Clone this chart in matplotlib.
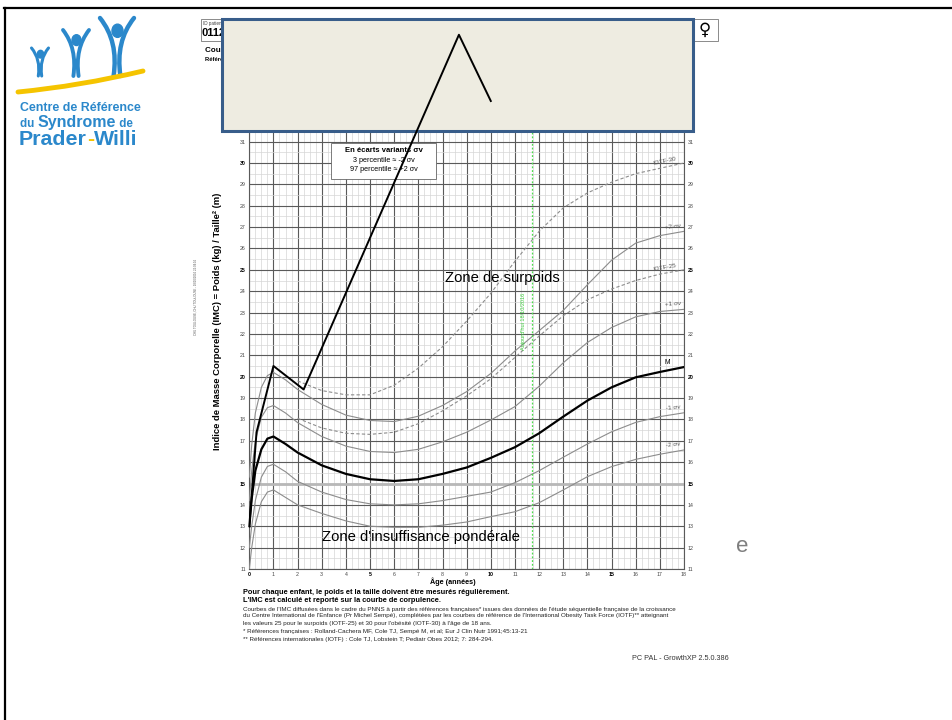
import numpy as np
import matplotlib
matplotlib.use("Agg")
import matplotlib.pyplot as plt
from matplotlib.patches import Rectangle, PathPatch, Ellipse
from matplotlib.path import Path

plt.rcParams['font.family'] = ['Liberation Sans', 'DejaVu Sans']

# French reference curves (girls), ages in years
ages = [0, 0.1, 0.25, 0.5, 0.75, 1, 1.5, 2, 3, 4, 5, 6, 7, 8, 9, 10, 11, 12, 13, 14, 15, 16, 17, 18]
bmi_p2 = [15.3, 16.8, 18.3, 19.5, 20.05, 20.2, 19.85, 19.4, 18.7, 18.2, 17.95, 17.9, 18.15, 18.65, 19.3,
          20.15, 21.2, 22.15, 23.1, 24.3, 25.45, 26.25, 26.6, 26.8]
bmi_p1 = [14.2, 15.6, 17.0, 18.1, 18.55, 18.65, 18.3, 17.85, 17.2, 16.75, 16.5, 16.45, 16.6, 16.95, 17.4,
          17.97, 18.6, 19.55, 20.65, 21.6, 22.3, 22.8, 23.05, 23.15]
bmi_m = [13.0, 14.3, 15.6, 16.6, 17.1, 17.2, 16.85, 16.45, 15.85, 15.45, 15.2, 15.12, 15.2, 15.45, 15.75,
         16.2, 16.7, 17.35, 18.13, 18.88, 19.5, 19.97, 20.22, 20.45]
bmi_m1 = [12.0, 13.0, 14.2, 15.3, 15.8, 15.9, 15.55, 15.1, 14.6, 14.25, 14.05, 14.0, 14.05, 14.2, 14.4,
          14.6, 15.04, 15.6, 16.23, 16.85, 17.42, 17.86, 18.13, 18.31]
bmi_m2 = [11.0, 12.0, 13.1, 14.15, 14.6, 14.7, 14.35, 14.0, 13.6, 13.25, 13.0, 12.95, 12.95, 13.05, 13.2,
          13.45, 13.68, 14.1, 14.7, 15.32, 15.79, 16.13, 16.37, 16.57]

# IOTF cut-offs
iotf_ages = [2, 3, 4, 5, 6, 7, 8, 9, 10, 11, 12, 13, 14, 15, 16, 17, 18]
iotf_25 = [18.05, 17.6, 17.35, 17.3, 17.4, 17.8, 18.4, 19.1, 19.9, 20.9, 21.9, 22.85, 23.6, 24.1, 24.5, 24.8, 25.0]
iotf_30 = [19.8, 19.35, 19.15, 19.15, 19.6, 20.4, 21.4, 22.6, 23.9, 25.4, 26.8, 27.9, 28.6, 29.1, 29.5, 29.75, 30.0]

# patient measurements
patient_ages = [0, 0.3, 1.0, 2.25, 8.68, 10.0]
patient_bmi = [13.0, 17.4, 20.5, 19.4, 36.0, 32.9]
today_age = 11.72

W, H = 952, 720
fig = plt.figure(figsize=(W / 100, H / 100), dpi=100)
renderer = fig.canvas.get_renderer()

# background layer in pixel coordinates
bg = fig.add_axes([0, 0, 1, 1], zorder=0)
bg.set_xlim(0, W)
bg.set_ylim(H, 0)
bg.axis('off')

# slide frame
bg.plot([4, W], [8, 8], color='black', lw=1.6)
bg.plot([5, 5], [8, H], color='black', lw=1.6)

blue = '#2B88CB'
yellow = '#F5C400'


def stroke(axh, pts, lw, color):
    codes = [Path.MOVETO] + [Path.CURVE3] * (len(pts) - 1)
    axh.add_patch(PathPatch(Path(pts, codes), fill=False, lw=lw, ec=color, capstyle='round'))


def text_run(axh, x, y, pieces):
    # write (text, size, colour) pieces one after another on a line
    for txt, size, col in pieces:
        t = axh.text(x, y, txt, fontsize=size, fontweight='bold', color=col, va='baseline')
        x += t.get_window_extent(renderer).width


# logo figures
for cx, ty, by, w, r, lw in [(40, 48, 76, 17, 3.2, 2.2), (76, 30, 76, 26, 4.5, 2.8), (117, 18, 76, 34, 5.5, 3.2)]:
    h = by - ty
    stroke(bg, [(cx - 0.5 * w, ty), (cx + 0.05 * w, ty + 0.4 * h), (cx - 0.1 * w, by)], lw, blue)
    stroke(bg, [(cx + 0.5 * w, ty), (cx - 0.05 * w, ty + 0.4 * h), (cx + 0.1 * w, by)], lw, blue)
    bg.add_patch(Ellipse((cx + 0.5, ty + 0.22 * h), 2 * r, 2.4 * r, color=blue))
stroke(bg, [(18, 92), (80, 86), (143, 71)], 3.5, yellow)

text_run(bg, 20, 111, [("Centre de Référence", 8.9, blue)])
text_run(bg, 20, 127, [("du ", 8.4, blue), ("Syndrome", 11.5, blue), (" de", 8.4, blue)])
text_run(bg, 19, 145, [("Prader", 15.4, blue), ("-", 15.4, yellow), ("Willi", 15.4, blue)])

# chart header (partly hidden)
bg.add_patch(Rectangle((201, 19), 60, 22, fill=False, ec='#777777', lw=0.6))
bg.text(203, 23, "ID patient", fontsize=3.3, color='#444444', va='center')
bg.text(202, 33.5, "0112", fontsize=8, fontweight='bold', va='center')
bg.text(205, 50, "Courbe de corpulence", fontsize=5.8, fontweight='bold', va='center')
bg.text(205, 59, "Références françaises et IOTF", fontsize=4.2, fontweight='bold', va='center')
bg.add_patch(Rectangle((690, 19), 28, 22, fc='white', ec='#777777', lw=0.6))
bg.text(705, 30, "\u2640", fontsize=12, ha='center', va='center', family='DejaVu Sans')

# side texts
bg.text(196, 297, "CHU TOULOUSE, CHU TOULOUSE - 18/10/2016 22:04:16", fontsize=2.1, rotation=90,
        ha='center', va='center', color='#555555')
bg.text(218, 321, "Indice de Masse Corporelle (IMC) = Poids (kg) / Taille\u00b2 (m)", fontsize=6.8,
        fontweight='bold', rotation=90, ha='center', va='center')

# footer
bg.text(453, 582, "Âge (années)", fontsize=5.2, fontweight='bold', ha='center', va='center')
bg.text(243, 593, "Pour chaque enfant, le poids et la taille doivent être mesurés régulièrement.",
        fontsize=5.3, fontweight='bold', va='center')
bg.text(243, 601, "L'IMC est calculé et reporté sur la courbe de corpulence.",
        fontsize=5.3, fontweight='bold', va='center')
notes = [
    "Courbes de l'IMC diffusées dans le cadre du PNNS à partir des références françaises* issues des données de l'étude séquentielle française de la croissance",
    "du Centre International de l'Enfance (Pr Michel Sempé), complétées par les courbes de référence de l'International Obesity Task Force (IOTF)** atteignant",
    "les valeurs 25 pour le surpoids (IOTF-25) et 30 pour l'obésité (IOTF-30) à l'âge de 18 ans.",
]
for i, line in enumerate(notes):
    bg.text(243, 609 + 7 * i, line, fontsize=4.5, va='center', color='#222222')
bg.text(243, 632, "* Références françaises : Rolland-Cachera MF, Cole TJ, Sempé M, et al; Eur J Clin Nutr 1991;45:13-21",
        fontsize=4.5, va='center', color='#222222')
bg.text(243, 639, "** Références internationales (IOTF) : Cole TJ, Lobstein T; Pediatr Obes 2012; 7: 284-294.",
        fontsize=4.5, va='center', color='#222222')
bg.text(729, 658, "PC PAL - GrowthXP 2.5.0.386", fontsize=5.2, ha='right', va='center', color='#333333')
bg.text(742, 547, "e", fontsize=16, ha='center', va='center', color='#7f7f7f')

# BMI chart
ax = fig.add_axes([249.3 / W, 1 - 569 / H, 434.7 / W, 21 * 21.37 / H], zorder=1)
ax.set_xlim(0, 18)
ax.set_ylim(11, 32)
ax.set_xticks(range(19))
ax.set_xticks(np.arange(0, 18.01, 0.25), minor=True)
ax.set_yticks(range(11, 32))
ax.set_yticks(np.arange(11, 32.01, 0.5), minor=True)
ax.set_axisbelow(True)
ax.grid(which='minor', color='#d6d6d6', lw=0.5)
ax.grid(which='major', color='#5a5a5a', lw=0.8)
ax.axhline(15, color='#b8b8b8', lw=2.0, zorder=1)
ax.tick_params(which='both', length=0, labelsize=3.8, labelcolor='#444444', pad=2.5,
               labelleft=True, labelright=True)
for lab in ax.get_xticklabels():
    if lab.get_text() in ('0', '5', '10', '15'):
        lab.set_fontweight('bold')
        lab.set_color('black')
for lab in ax.get_yticklabels():
    if lab.get_text() in ('15', '20', '25', '30'):
        lab.set_fontweight('bold')
        lab.set_color('black')
for sp in ax.spines.values():
    sp.set_color('#5a5a5a')
    sp.set_linewidth(0.8)

grey = '#8c8c8c'
for vals in (bmi_p2, bmi_p1, bmi_m1, bmi_m2):
    ax.plot(ages, vals, color=grey, lw=0.8, zorder=3)
ax.plot(ages, bmi_m, color='black', lw=1.6, zorder=4)
ax.plot(iotf_ages, iotf_25, color=grey, lw=0.8, ls=(0, (3, 2)), zorder=3)
ax.plot(iotf_ages, iotf_30, color=grey, lw=0.8, ls=(0, (3, 2)), zorder=3)

curve_labels = [("IOTF-30", 17.2, 30.1, 12), ("+2 \u03c3v", 17.55, 27.0, 6), ("IOTF-25", 17.2, 25.1, 10),
                ("+1 \u03c3v", 17.55, 23.4, 4), ("-1 \u03c3v", 17.55, 18.55, 6), ("-2 \u03c3v", 17.55, 16.8, 6)]
for txt, x, y, rot in curve_labels:
    ax.text(x, y, txt, fontsize=4.6, color='#555555', rotation=rot, ha='center', va='center', zorder=5)
ax.text(17.3, 20.65, "M", fontsize=4.8, color='black', ha='center', va='center', zorder=5)

ax.axvline(today_age, color='#4fdc4f', lw=0.9, ls=(0, (1.5, 1.5)), zorder=3)
ax.text(today_age - 0.35, 22.6, "Aujourd'hui 18/10/2016", fontsize=4.0, color='#3ccc3c', rotation=90,
        ha='center', va='center', zorder=5)

ax.text(8.1, 24.62, "Zone de surpoids", fontsize=10.7, ha='left', va='center', zorder=6)
ax.text(3.0, 12.5, "Zone d'insuffisance pondérale", fontsize=10.7, ha='left', va='center', zorder=6)

# overlay layer: legend box and title panel
ov = fig.add_axes([0, 0, 1, 1], zorder=2)
ov.set_xlim(0, W)
ov.set_ylim(H, 0)
ov.axis('off')
ov.add_patch(Rectangle((331, 143), 105, 36, fc='white', ec='#666666', lw=0.6))
ov.text(383.5, 150.5, "En écarts variants \u03c3v", fontsize=5.5, fontweight='bold', ha='center', va='center')
ov.text(383.5, 161, "3 percentile \u2248 -2 \u03c3v", fontsize=5.2, ha='center', va='center')
ov.text(383.5, 169.5, "97 percentile \u2248 +2 \u03c3v", fontsize=5.2, ha='center', va='center')
ov.add_patch(Rectangle((222, 19), 471, 112, fc='#EEECE1', ec='#385D8A', lw=2.2))

# patient curve on top of everything
pt = fig.add_axes([249.3 / W, 1 - 569 / H, 434.7 / W, 21 * 21.37 / H], zorder=3)
pt.set_xlim(ax.get_xlim())
pt.set_ylim(ax.get_ylim())
pt.axis('off')
pt.plot(patient_ages, patient_bmi, color='black', lw=1.4, clip_on=False)

fig.savefig('out.png', dpi=100)
